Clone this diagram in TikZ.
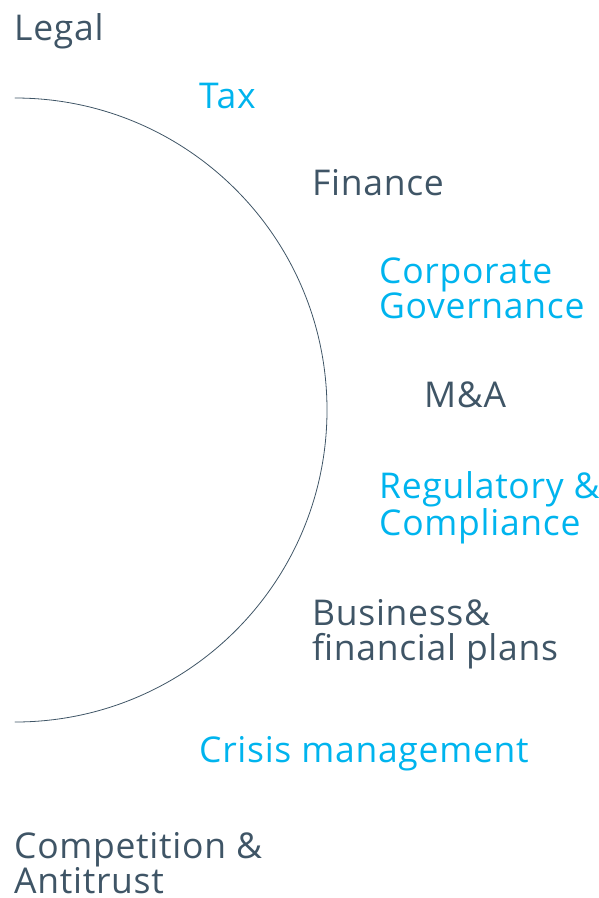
\documentclass[tikz,border=0pt]{standalone}
\usepackage{fontspec}
\setmainfont[LetterSpace=2]{Open Sans}
\definecolor{slate}{HTML}{3F5566}
\definecolor{cyanblue}{HTML}{00B4EE}
\begin{document}
\begin{tikzpicture}[x=1pt,y=-1pt,line join=round,line cap=round,
	lbl/.style={anchor=base west,align=left,inner sep=0pt,font=\fontsize{35.5}{35}\selectfont},
	dark/.style={lbl,text=slate},
	light/.style={lbl,text=cyanblue}]
	 \useasboundingbox (0,0) rectangle (599,898);
	 \coordinate (top) at (15,98);
	 \draw[slate,line width=.8pt] (top) arc[start angle=-90,end angle=90,radius=312];
	 % multi-line labels sit on the baseline of their last line
	 \node[dark]  (legal)     at (14,40)  {Legal};
	 \node[light] (tax)       at (199,108) {Tax};
	 \node[dark]  (finance)   at (312,195) {Finance};
	 \node[light] (corpgov)   at (379,318) {Corporate\\Governance};
	 \node[dark]  (manda)     at (424,407) {M\&A};
	 \node[light] (regcomp)   at (379,535) {Regulatory \&\\Compliance};
	 \node[dark]  (busplan)   at (312,660) {Business\&\\financial plans};
	 \node[light] (crisis)    at (199,762) {Crisis management};
	 \node[dark]  (comptrust) at (14,893) {Competition \&\\Antitrust};
\end{tikzpicture}
\end{document}
